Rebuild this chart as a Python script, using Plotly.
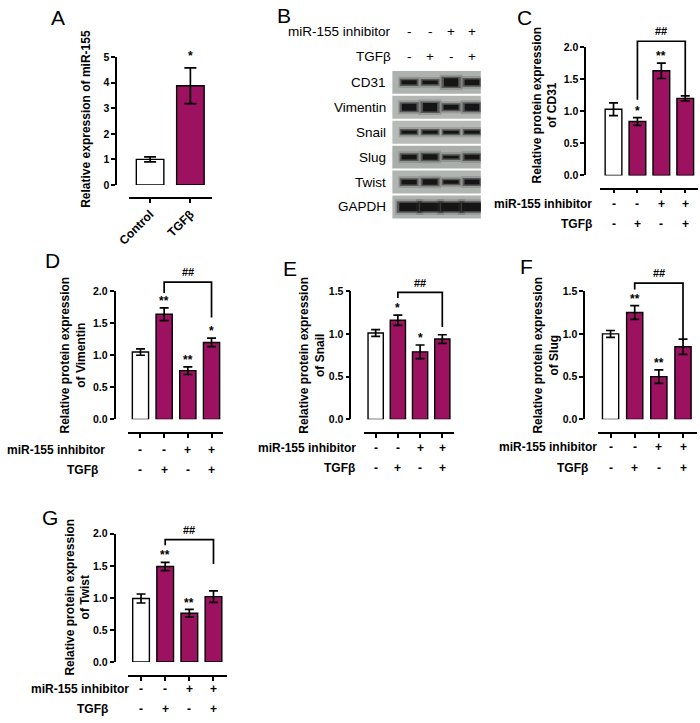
import plotly.graph_objects as go

W, H = 700, 723
MAGENTA = "#9c1260"
FONT = "Liberation Sans, Arial, sans-serif"

# ---------------- data ----------------
a_groups = ["Control", "TGFβ"]
a_mean = [1.0, 3.88]
a_err = [0.10, 0.70]
a_sig = ["", "*"]

inhibitor = ["-", "-", "+", "+"]
tgfb = ["-", "+", "-", "+"]

cd31_mean = [1.03, 0.84, 1.63, 1.20]
cd31_err = [0.10, 0.06, 0.12, 0.04]
cd31_sig = ["", "*", "**", ""]
cd31_bracket = [1.18, 2.09, 1.25]

vim_mean = [1.05, 1.64, 0.76, 1.20]
vim_err = [0.05, 0.10, 0.06, 0.066]
vim_sig = ["", "**", "**", "*"]
vim_bracket = [1.97, 2.14, 1.59]

snail_mean = [1.01, 1.16, 0.79, 0.94]
snail_err = [0.04, 0.06, 0.08, 0.05]
snail_sig = ["", "*", "*", ""]
snail_bracket = [1.42, 1.485, 1.08]

slug_mean = [1.00, 1.25, 0.50, 0.85]
slug_err = [0.04, 0.08, 0.08, 0.09]
slug_sig = ["", "**", "**", ""]
slug_bracket = [1.52, 1.595, 0.92]

twist_mean = [0.99, 1.49, 0.76, 1.02]
twist_err = [0.07, 0.065, 0.06, 0.09]
twist_sig = ["", "**", "**", ""]
twist_bracket = [1.82, 1.91, 1.53]

blot_proteins = ["CD31", "Vimentin", "Snail", "Slug", "Twist", "GAPDH"]
band_cd31 = [0.45, 0.35, 0.95, 0.65]
band_vim = [0.80, 1.00, 0.55, 0.80]
band_snail = [0.30, 0.30, 0.25, 0.30]
band_slug = [0.50, 0.60, 0.25, 0.50]
band_twist = [0.50, 0.60, 0.35, 0.55]
band_gapdh = [1.00, 1.00, 1.00, 1.00]
blot_bands = [band_cd31, band_vim, band_snail, band_slug, band_twist, band_gapdh]

# ---------------- helpers ----------------
def fx(px):
    return px / W

def fy(py):
    return 1 - py / H

def xref(i):
    return "x" if i == 1 else f"x{i}"

def yref(i):
    return "y" if i == 1 else f"y{i}"

def xkey(i):
    return "xaxis" if i == 1 else f"xaxis{i}"

def ykey(i):
    return "yaxis" if i == 1 else f"yaxis{i}"

layout = dict(
    width=W, height=H, autosize=False,
    margin=dict(l=0, r=0, t=0, b=0),
    paper_bgcolor="white", plot_bgcolor="rgba(0,0,0,0)",
    showlegend=False,
    font=dict(family=FONT, color="black"),
)
annotations = []
shapes = []
traces = []
counter = {"x": 0, "y": 0}

def nx():
    counter["x"] += 1
    return counter["x"]

def ny():
    counter["y"] += 1
    return counter["y"]

BOLD = dict(family=FONT, size=12, color="black", weight="bold")

def letter(txt, px, py):
    annotations.append(dict(text=txt, x=fx(px), y=fy(py), xref="paper", yref="paper",
                            showarrow=False, xanchor="center", yanchor="middle",
                            font=dict(family=FONT, size=21, color="black")))

def bar_panel(g, means, errs, sigs, bracket=None, ticktext=None):
    n = len(means)
    ix, iy, ie = nx(), ny(), ny()
    s = (g["c1"] - g["c0"]) / (n - 1)
    r0 = -(g["c0"] - g["xl"]) / s
    r1 = (n - 1) + (g["xr"] - g["c1"]) / s
    ppu = (g["y0"] - g["ytop"]) / g["ymax"]
    ext_max = (g["y0"] - g["ext_top"]) / ppu

    xa = dict(domain=[fx(g["xl"]), fx(g["xr"])], range=[r0, r1], anchor="free",
              position=fy(g["xline"]), showline=True, linecolor="black", linewidth=1.7,
              ticks="outside", ticklen=4, tickwidth=1.7, tickcolor="black",
              tickvals=list(range(n)), showticklabels=False, showgrid=False,
              zeroline=False, fixedrange=True)
    if ticktext is not None:
        xa.update(showticklabels=True, ticktext=ticktext, tickangle=-45,
                  tickfont=dict(family=FONT, size=12, color="black", weight="bold"))
    layout[xkey(ix)] = xa
    layout[ykey(iy)] = dict(domain=[fy(g["y0"]), fy(g["ytop"])], range=[0, g["ymax"]],
                            anchor="free", position=fx(g["yax"]), showline=True,
                            linecolor="black", linewidth=1.7, ticks="outside", ticklen=4,
                            tickwidth=1.7, tickcolor="black", dtick=g["dtick"],
                            tickformat=g["fmt"], showgrid=False, zeroline=False,
                            fixedrange=True,
                            tickfont=dict(family=FONT, size=10.5, color="black", weight="bold"))
    layout[ykey(ie)] = dict(domain=[fy(g["y0"]), fy(g["ext_top"])], range=[0, ext_max],
                            anchor="free", position=fx(g["yax"]), visible=False,
                            fixedrange=True)
    colors = ["white"] + [MAGENTA] * (n - 1)
    traces.append(go.Bar(
        x=list(range(n)), y=means, width=g["bw"] / s,
        marker=dict(color=colors, line=dict(color="black", width=1.4)),
        error_y=dict(type="data", array=errs, visible=True, color="black",
                     thickness=1.7, width=g.get("cap", 4.5)),
        xaxis=xref(ix), yaxis=yref(iy), hoverinfo="skip"))
    gap = g.get("sig_gap", 10)
    for i, sg in enumerate(sigs):
        if sg:
            annotations.append(dict(text=sg, x=i, y=means[i] + errs[i] + gap / ppu,
                                    xref=xref(ix), yref=yref(ie), showarrow=False,
                                    xanchor="center", yanchor="middle", yshift=-3,
                                    font=BOLD))
    if bracket is not None:
        lb, top, rb = bracket
        traces.append(go.Scatter(x=[1, 1, 3, 3], y=[lb, top, top, rb], mode="lines",
                                 line=dict(color="black", width=1.7),
                                 xaxis=xref(ix), yaxis=yref(ie), hoverinfo="skip"))
        annotations.append(dict(text="##", x=2, y=top + 10 / ppu, xref=xref(ix),
                                yref=yref(ie), showarrow=False, xanchor="center",
                                yanchor="middle", font=dict(family=FONT, size=11,
                                                            color="black", weight="bold")))
    if "rows" in g:
        for rowy, rlabel, rright, signs in zip(g["rows"], ["miR-155 inhibitor", "TGFβ"],
                                               g["rright"], [inhibitor, tgfb]):
            annotations.append(dict(text=rlabel, x=fx(rright), y=fy(rowy), xref="paper",
                                    yref="paper", showarrow=False, xanchor="right",
                                    yanchor="middle", font=BOLD))
            for i, sgn in enumerate(signs):
                annotations.append(dict(text=sgn, x=i, y=fy(rowy), xref=xref(ix),
                                        yref="paper", showarrow=False, xanchor="center",
                                        yanchor="middle", font=BOLD))
    annotations.append(dict(text=g["title"], x=fx(g["tx"]), y=fy(g["ty"]), xref="paper",
                            yref="paper", showarrow=False, textangle=-90,
                            xanchor="center", yanchor="middle", font=BOLD))
    letter(g["letter"], *g["lpos"])

# ---------------- panel geometry ----------------
geo_a = dict(yax=106, y0=182, ytop=52, ymax=5, dtick=1, fmt="d", xline=195, xl=119,
             xr=203, c0=140.5, c1=181.5, bw=28, ext_top=35, sig_gap=15, cap=6,
             title="Relative expression of miR-155", tx=75, ty=115,
             letter="A", lpos=(47, 12))
geo_c = dict(yax=583.3, y0=172.3, ytop=41.7, ymax=2, dtick=0.5, fmt=".1f", xline=185.7,
             xl=598, xr=698, c0=612, c1=685, bw=17, ext_top=12,
             rows=[201.7, 221.7], rright=[592.5, 591.7],
             title="Relative protein expression<br>of CD31", tx=542.5, ty=101,
             letter="C", lpos=(521.7, 11.7))
geo_d = dict(yax=104.3, y0=420.3, ytop=290, ymax=2, dtick=0.5, fmt=".1f", xline=434.3,
             xl=118.3, xr=215, c0=130.7, c1=203, bw=16.5, ext_top=255,
             rows=[451, 471.7], rright=[96.7, 90],
             title="Relative protein expression<br>of Vimentin", tx=62.5, ty=355,
             letter="D", lpos=(41.7, 258.3))
geo_e = dict(yax=344.3, y0=420.3, ytop=290, ymax=1.5, dtick=0.5, fmt=".1f", xline=434.3,
             xl=358.3, xr=450, c0=370, c1=437.8, bw=15.5, ext_top=258,
             rows=[449.3, 470], rright=[352.3, 350.7],
             title="Relative protein expression<br>of Snail", tx=305.8, ty=355,
             letter="E", lpos=(283.3, 266.7))
geo_f = dict(yax=582.3, y0=420.3, ytop=290, ymax=1.5, dtick=0.5, fmt=".1f", xline=434.3,
             xl=596.7, xr=696.7, c0=609, c1=682.7, bw=16.5, ext_top=258,
             rows=[448.3, 470], rright=[597.7, 588.3],
             title="Relative protein expression<br>of Slug", tx=543.8, ty=355,
             letter="F", lpos=(523.3, 265))
geo_g = dict(yax=104.3, y0=667, ytop=536.7, ymax=2, dtick=0.5, fmt=".1f", xline=681,
             xl=118.3, xr=218.3, c0=131.3, c1=205, bw=17, ext_top=512,
             rows=[694.3, 715], rright=[120.7, 100],
             title="Relative protein expression<br>of Twist", tx=66.7, ty=601,
             letter="G", lpos=(38.3, 520))

bar_panel(geo_a, a_mean, a_err, a_sig, ticktext=a_groups)
bar_panel(geo_c, cd31_mean, cd31_err, cd31_sig, cd31_bracket)
bar_panel(geo_d, vim_mean, vim_err, vim_sig, vim_bracket)
bar_panel(geo_e, snail_mean, snail_err, snail_sig, snail_bracket)
bar_panel(geo_f, slug_mean, slug_err, slug_sig, slug_bracket)
bar_panel(geo_g, twist_mean, twist_err, twist_sig, twist_bracket)

# ---------------- western blot (B) ----------------
bx, by = nx(), ny()
layout[xkey(bx)] = dict(domain=[fx(387), fx(477)], range=[-0.8, 3.42], visible=False,
                        anchor=yref(by), fixedrange=True)
layout[ykey(by)] = dict(domain=[fy(217), fy(65)], range=[5.5, -0.5], visible=False,
                        anchor=xref(bx), fixedrange=True)
row_bg = ["#aeb2af", "#b3b7b4", "#b7bbb8", "#aaaeab", "#b1b5b2", "#b0b4b1"]
REG = dict(family=FONT, size=13.5, color="black")
band_layers = [  # (extra width px, extra half-length, colour)
    (7, 0.06, "rgba(60,60,60,0.22)"),
    (3, 0.02, "rgba(35,35,35,0.55)"),
    (0, -0.04, "rgba(18,18,18,0.95)"),
]
for r, (prot, bands) in enumerate(zip(blot_proteins, blot_bands)):
    shapes.append(dict(type="rect", xref=f"{xref(bx)} domain", yref=yref(by), x0=0, x1=1,
                       y0=r - 0.46, y1=r + 0.46, fillcolor=row_bg[r], line_width=0,
                       layer="below"))
    annotations.append(dict(text=prot, x=fx(383), y=r, xref="paper", yref=yref(by),
                            showarrow=False, xanchor="right", yanchor="middle", font=REG))
    half = 0.55 if prot == "GAPDH" else 0.42
    for lane, inten in enumerate(bands):
        thick = 2.0 + 7.5 * inten
        for extra_w, extra_h, col in band_layers:
            hl = half + extra_h * (1 + inten)
            traces.append(go.Scatter(x=[lane - hl, lane + hl], y=[r, r], mode="lines",
                                     line=dict(color=col, width=max(thick + extra_w - 1, 1)),
                                     xaxis=xref(bx), yaxis=yref(by), hoverinfo="skip"))
for rowy, rlabel, signs in zip([26, 51], ["miR-155 inhibitor", "TGFβ"], [inhibitor, tgfb]):
    annotations.append(dict(text=rlabel, x=fx(388), y=fy(rowy), xref="paper", yref="paper",
                            showarrow=False, xanchor="right", yanchor="middle", font=REG))
    for i, sgn in enumerate(signs):
        annotations.append(dict(text=sgn, x=i, y=fy(rowy), xref=xref(bx), yref="paper",
                                showarrow=False, xanchor="center", yanchor="middle",
                                font=REG))
letter("B", 276.7, 10)

layout["annotations"] = annotations
layout["shapes"] = shapes
fig = go.Figure(data=traces, layout=layout)
fig.write_html("out.html", config={"displayModeBar": False},
               post_script="document.body.style.margin='0';"
                           "document.body.style.overflow='hidden';")
